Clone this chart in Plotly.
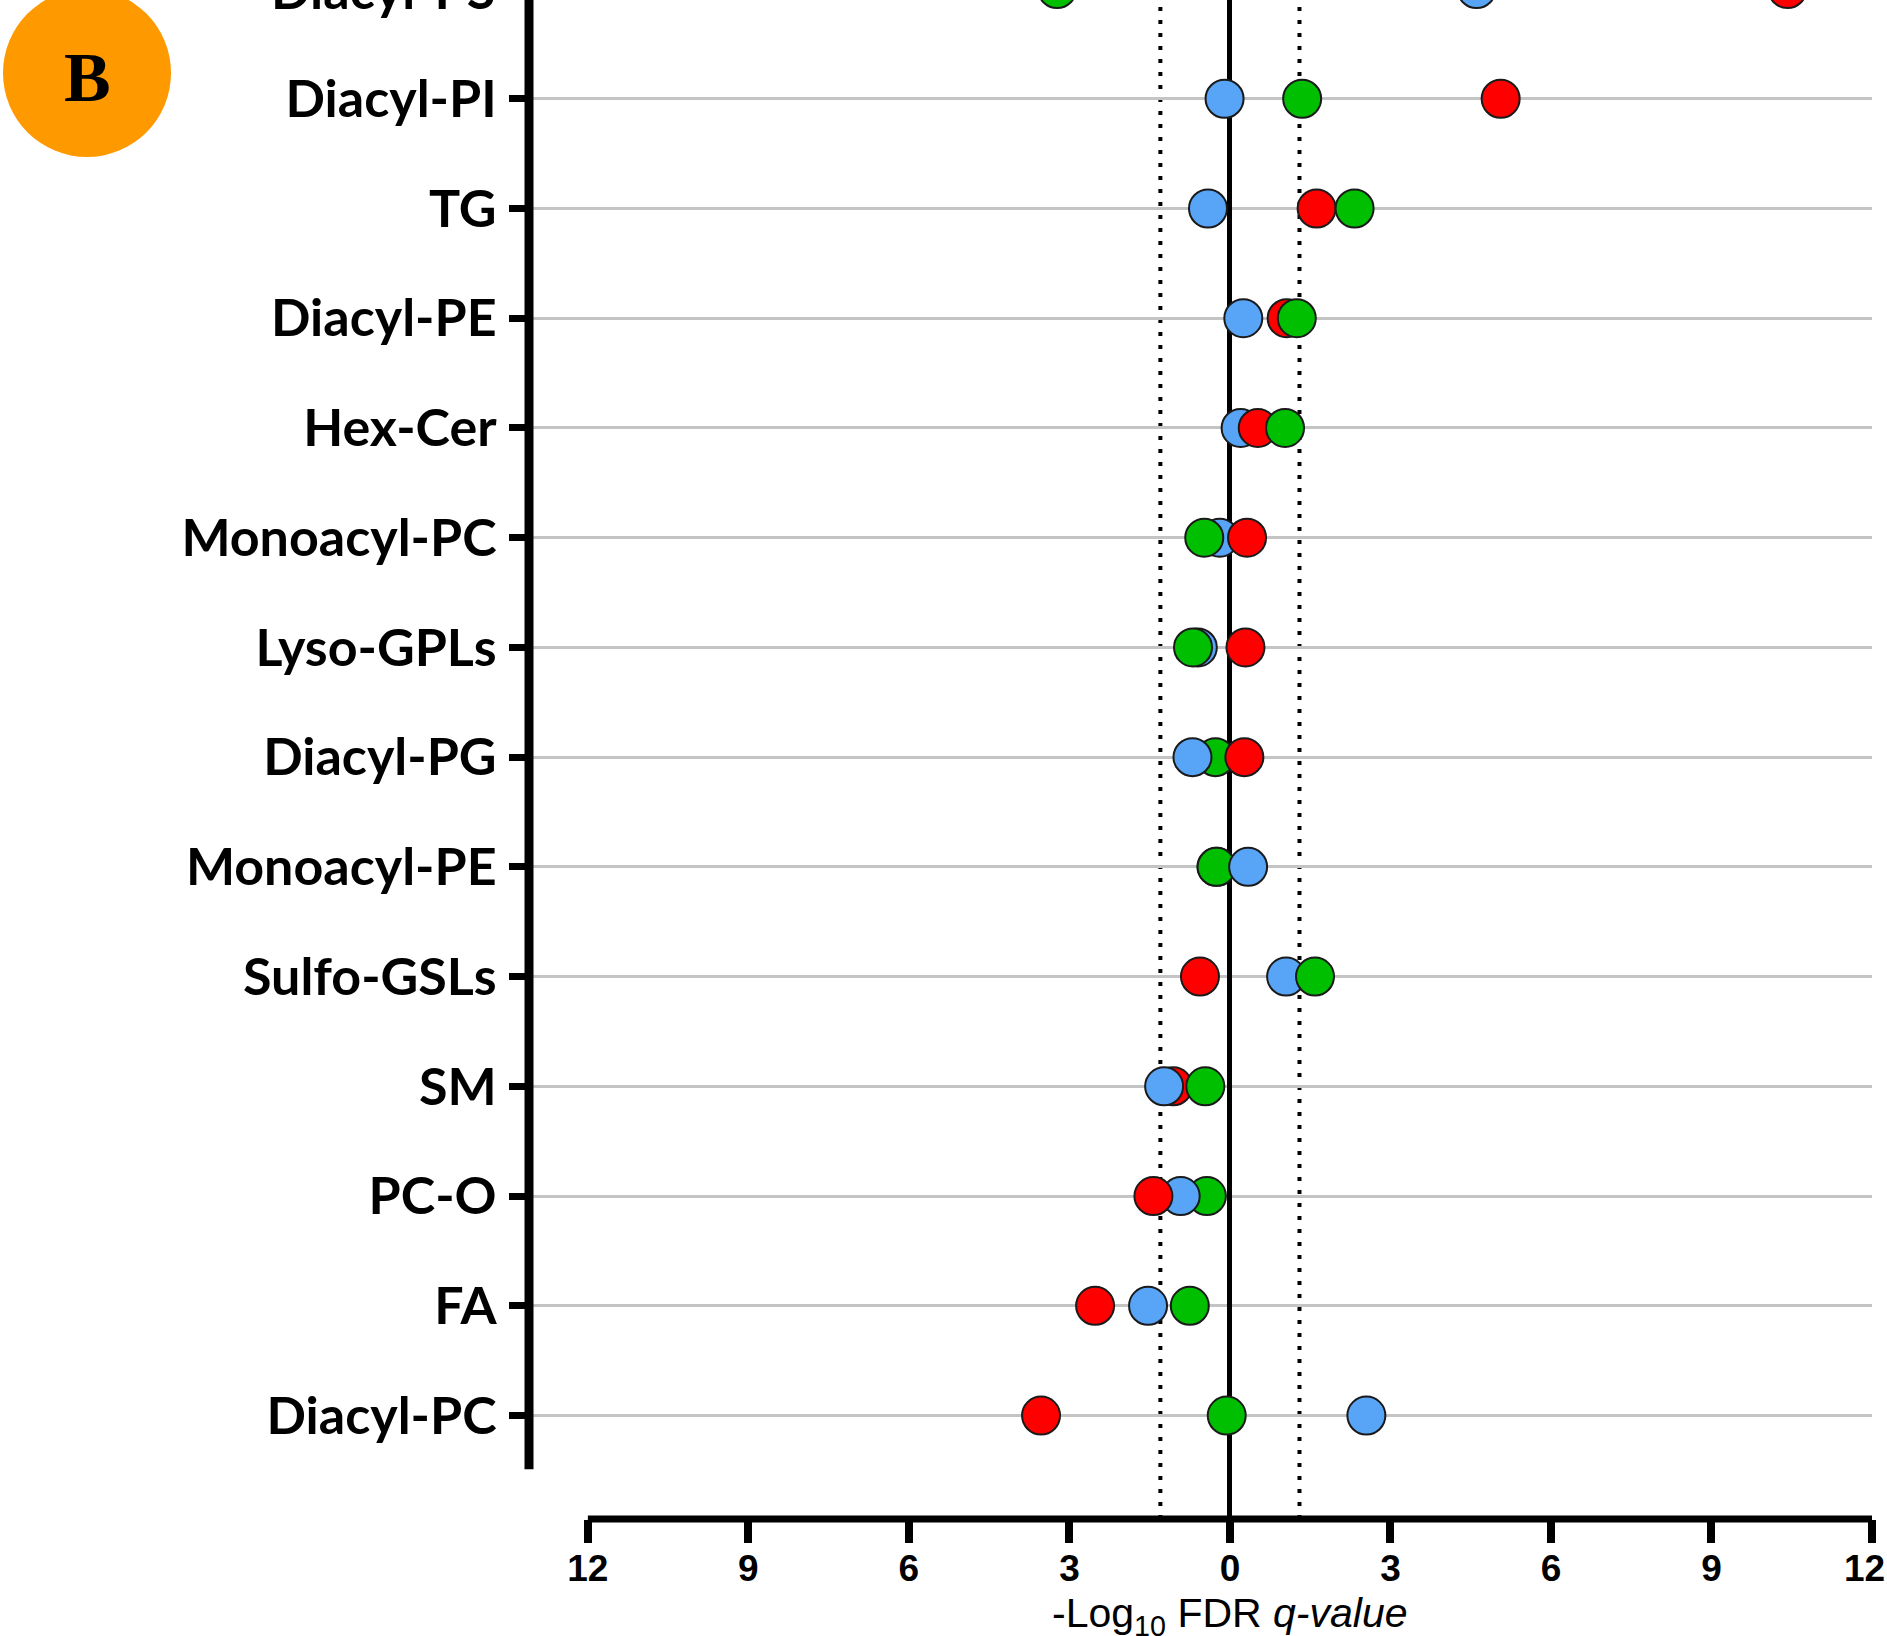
import plotly.graph_objects as go

# ---------------- data ----------------
categories = ["Diacyl-PC", "FA", "PC-O", "SM", "Sulfo-GSLs", "Monoacyl-PE", "Diacyl-PG",
              "Lyso-GPLs", "Monoacyl-PC", "Hex-Cer", "Diacyl-PE", "TG", "Diacyl-PI", "Diacyl-PS"]
red_values = [-3.53, -2.52, -1.43, -1.06, -0.56, -0.25, 0.27, 0.29, 0.32, 0.52, 1.06, 1.62, 5.06, 10.42]
blue_values = [2.55, -1.53, -0.92, -1.23, 1.05, 0.34, -0.70, -0.60, -0.19, 0.20, 0.25, -0.41, -0.10, 4.61]
green_values = [-0.06, -0.75, -0.43, -0.46, 1.59, -0.25, -0.27, -0.69, -0.48, 1.03, 1.25, 2.33, 1.35, -3.23]
significance_threshold = 1.3  # -log10(0.05)
x_tick_values = [-12, -9, -6, -3, 0, 3, 6, 9, 12]
x_tick_labels = ["12", "9", "6", "3", "0", "3", "6", "9", "12"]

# ---------------- style ----------------
series_colors = {"R": "#FF0000", "B": "#58A4F6", "G": "#00BE00"}
series_values = {"R": red_values, "B": blue_values, "G": green_values}
# stacking order of the three dots in each row (bottom -> top)
draw_order = ["RBG", "RBG", "GBR", "RBG", "RBG", "RGB", "GBR",
              "BRG", "BRG", "BRG", "BRG", "BRG", "BRG", "BRG"]

W, H = 1887, 1636
plot_left, plot_right, plot_top, plot_bottom = 529, 1872, 0, 1519
x_range = [-13.10, 12.0]
y_range = [-0.943, 12.90]
y_axis_bottom = -0.49
x_label_center_px = 1568  # vertical centre of the x tick labels


def x2paper(v):
    return (v - x_range[0]) / (x_range[1] - x_range[0])


def y2paper(v):
    return (v - y_range[0]) / (y_range[1] - y_range[0])


def pxx(px):
    return (px - plot_left) / (plot_right - plot_left)


def pxy(py):
    return (plot_bottom - py) / (plot_bottom - plot_top)


xs, ys, cs = [], [], []
for i, order in enumerate(draw_order):
    for key in order:
        xs.append(series_values[key][i])
        ys.append(i)
        cs.append(series_colors[key])

fig = go.Figure()
fig.add_trace(go.Scatter(
    x=xs, y=ys, mode="markers", cliponaxis=True, showlegend=False,
    marker=dict(size=38, color=cs, line=dict(color="#1a1a1a", width=2)),
    hoverinfo="x+y",
))

label_font = dict(family="Lato", size=52, color="black", weight="bold")
x_tick_font = dict(family="Liberation Sans", size=37, color="black", weight="bold")

shapes = [
    # y axis line (stops above the x axis)
    dict(type="line", xref="paper", yref="paper", x0=0, x1=0,
         y0=y2paper(y_axis_bottom), y1=1.02, line=dict(color="black", width=9), layer="above"),
    # x axis line from -12 to 12
    dict(type="line", xref="paper", yref="paper", x0=x2paper(x_tick_values[0]), x1=x2paper(x_tick_values[-1]),
         y0=0, y1=0, line=dict(color="black", width=7), layer="above"),
    # orange badge
    dict(type="circle", xref="paper", yref="paper", x0=pxx(3), x1=pxx(171), y0=pxy(157), y1=pxy(-11),
         fillcolor="#FF9900", line=dict(width=0), layer="above"),
]
for t in (-significance_threshold, significance_threshold):
    shapes.append(dict(type="line", xref="paper", yref="paper", x0=x2paper(t), x1=x2paper(t), y0=0, y1=1.01,
                       line=dict(color="black", width=4, dash="4px,9px"), layer="between"))

annotations = [
    dict(text="B", xref="paper", yref="paper", x=pxx(87), y=pxy(77), showarrow=False,
         xanchor="center", yanchor="middle",
         font=dict(family="Liberation Serif", size=70, color="black", weight="bold")),
    dict(text="-Log<sub>10</sub> FDR <i>q-value</i>", xref="x", yref="paper", x=0, y=pxy(1616),
         showarrow=False, xanchor="center", yanchor="middle",
         font=dict(family="Liberation Sans", size=41, color="black")),
    # last x tick label sits on the right edge of the figure (cut in the original)
    dict(text=x_tick_labels[-1], xref="paper", yref="paper", x=pxx(W), y=pxy(x_label_center_px),
         showarrow=False, xanchor="right", yanchor="middle", font=x_tick_font),
]
# category labels beyond the visible y range (cut off at the top edge)
for i, name in enumerate(categories):
    if i > y_range[1]:
        annotations.append(dict(text=name, xref="paper", yref="paper", x=0, xshift=-32, y=y2paper(i),
                                showarrow=False, xanchor="right", yanchor="middle", font=label_font))

axis_tick_text = x_tick_labels[:-1] + [""]

fig.update_layout(
    width=W, height=H,
    margin=dict(l=plot_left, r=W - plot_right, t=plot_top, b=H - plot_bottom, pad=0),
    paper_bgcolor="white", plot_bgcolor="white",
    shapes=shapes, annotations=annotations,
    xaxis=dict(range=x_range, tickvals=x_tick_values, ticktext=axis_tick_text,
               showgrid=False, zeroline=True, zerolinecolor="black", zerolinewidth=5,
               showline=False, ticks="outside", ticklen=23, tickwidth=8, tickcolor="black",
               tickfont=x_tick_font, ticklabelstandoff=-6),
    yaxis=dict(range=y_range, tickvals=list(range(len(categories))), ticktext=categories,
               showgrid=True, gridcolor="#c4c4c4", gridwidth=2.5, zeroline=False, showline=False,
               ticks="outside", ticklen=19, tickwidth=7, tickcolor="black",
               tickfont=label_font, ticklabelstandoff=2),
)

fig.write_html(
    "out.html", config={"displayModeBar": False},
    post_script=("document.body.style.margin='0';"
                 "document.body.style.overflow='hidden';"
                 "document.documentElement.style.overflow='hidden';"),
)
